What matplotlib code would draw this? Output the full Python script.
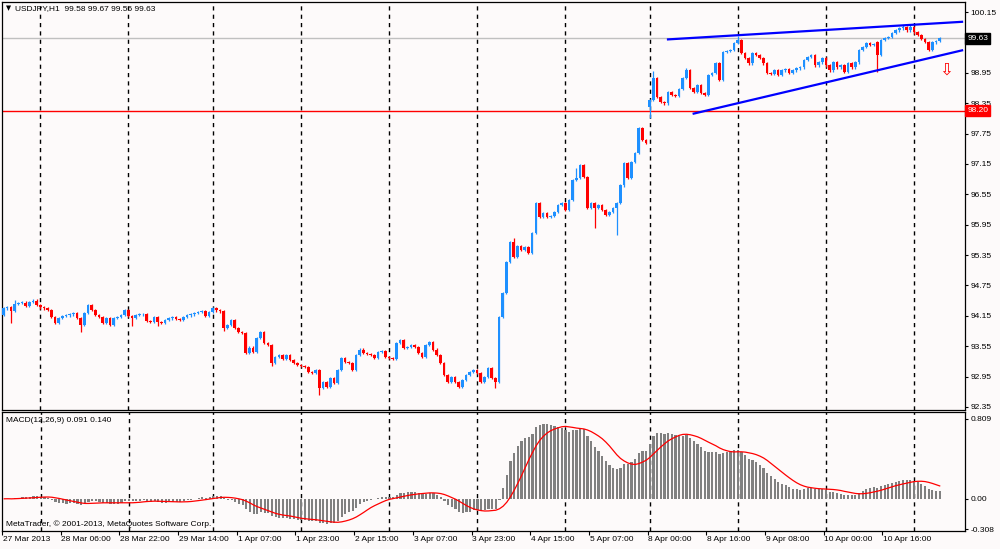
import numpy as np
import pandas as pd
import matplotlib
matplotlib.use("Agg")
import matplotlib.pyplot as plt
import matplotlib.transforms as mtransforms

# ---------------- data (USDJPY H1 closes, one list per trading day) ----------------
d27 = [94.30, 94.32, 94.25, 94.38, 94.40, 94.41, 94.34, 94.42, 94.45, 94.36]
d28 = [94.32, 94.30, 94.27, 94.13, 94.01, 94.11, 94.15, 94.16, 94.18, 94.21, 94.11, 93.97,
       94.21, 94.36, 94.27, 94.17, 94.13, 94.01, 94.11, 93.97, 94.11, 94.13, 94.17, 94.27]
d29 = [94.15, 94.11, 94.17, 94.18, 94.19, 94.05, 94.03, 94.13, 94.03, 94.01, 94.07, 94.10,
       94.12, 94.09, 94.07, 94.13, 94.16, 94.18, 94.21, 94.23, 94.25, 94.15, 94.23]
d01 = [94.30, 94.26, 94.24, 93.91, 93.97, 94.07, 93.91, 93.83, 93.81, 93.42, 93.52, 93.44,
       93.71, 93.83, 93.61, 93.57, 93.22, 93.34, 93.38, 93.30, 93.38, 93.28, 93.22, 93.18]
d02 = [93.16, 93.14, 93.04, 93.02, 93.08, 92.73, 92.84, 92.75, 92.92, 92.82, 93.08, 93.32,
       93.24, 93.22, 93.08, 93.38, 93.48, 93.42, 93.40, 93.38, 93.32, 93.44, 93.46, 93.34]
d03 = [93.32, 93.30, 93.61, 93.67, 93.52, 93.53, 93.57, 93.53, 93.42, 93.34, 93.57, 93.63,
       93.48, 93.38, 93.22, 92.98, 92.84, 92.94, 92.84, 92.75, 92.88, 92.98, 93.04, 93.08]
d04 = [93.02, 92.84, 92.94, 93.12, 92.92, 92.84, 94.13, 94.60, 95.21, 95.61, 95.31, 95.53,
       95.45, 95.51, 95.39, 95.79, 96.38, 96.10, 96.18, 96.10, 96.12, 96.20, 96.34, 96.38]
d05 = [96.24, 96.44, 96.83, 96.87, 97.13, 96.89, 96.28, 96.38, 96.28, 96.34, 96.24, 96.14,
       96.20, 96.28, 96.38, 96.73, 97.17, 96.87, 97.19, 97.37, 97.86, 97.62, 97.56]
d08 = [98.41, 98.85, 98.47, 98.37, 98.35, 98.57, 98.51, 98.50, 98.63, 98.85, 99.00, 98.65,
       98.57, 98.71, 98.55, 98.51, 98.91, 98.95, 99.14, 98.81, 99.36, 99.38, 99.40, 99.54]
d09 = [99.60, 99.34, 99.24, 99.14, 99.34, 99.30, 99.24, 99.14, 98.95, 98.93, 99.00, 98.91,
       99.00, 99.02, 98.95, 99.00, 99.04, 99.06, 99.20, 99.26, 99.30, 99.10, 99.16, 99.24]
d10 = [99.10, 99.00, 99.16, 99.06, 99.10, 98.97, 99.14, 99.06, 99.16, 99.40, 99.46, 99.54,
       99.50, 99.52, 99.30, 99.60, 99.64, 99.66, 99.74, 99.79, 99.83, 99.85, 99.79, 99.85]
d11 = [99.75, 99.70, 99.62, 99.56, 99.40, 99.55, 99.58, 99.63]

# opens that differ from the previous close (first bar, weekend gap, spike bar)
open_marks = {0: 94.17, 176: 98.28, 238: 99.56}
# notable wick extremes
high_marks = {200: 99.68, 245: 99.89, 246: 99.88, 247: 99.90, 156: 97.07,
              186: 99.04, 177: 98.98, 139: 95.68, 3: 94.47}
low_marks = {2: 94.01, 21: 93.83, 35: 93.94, 42: 93.94, 60: 93.86, 73: 93.15, 86: 92.59,
             161: 95.88, 167: 95.75, 176: 98.06, 238: 98.97, 134: 92.73}

day_start_bars = [10, 34, 57, 81, 105, 129, 153, 176, 200, 224, 248]
time_labels = ["27 Mar 2013", "28 Mar 06:00", "28 Mar 22:00", "29 Mar 14:00",
               "1 Apr 07:00", "1 Apr 23:00", "2 Apr 15:00", "3 Apr 07:00",
               "3 Apr 23:00", "4 Apr 15:00", "5 Apr 07:00", "8 Apr 00:00",
               "8 Apr 16:00", "9 Apr 08:00", "10 Apr 00:00", "10 Apr 16:00"]
time_label_bars = [0, 16, 32, 48, 64, 80, 96, 112, 128, 144, 160, 176, 192, 208, 224, 240]

price_ticks = [92.35, 92.95, 93.55, 94.15, 94.75, 95.35, 95.95, 96.55, 97.15,
               97.75, 98.35, 98.95, 99.55, 100.15]
macd_ticks = [0.809, 0.0, -0.308]
macd_tick_labels = ["0.809", "0.00", "-0.308"]

level_price = 98.20
bid_price = 99.63
upper_trend_x, upper_trend_y = [180.7, 261.4], [99.61, 99.96]
lower_trend_x, lower_trend_y = [187.7, 261.4], [98.14, 99.40]
arrow_x, arrow_y = 256.7, 99.01

header_text = "USDJPY,H1  99.58 99.67 99.56 99.63"
macd_text = "MACD(12,26,9) 0.091 0.140"
credit_text = "MetaTrader, \u00a9 2001-2013, MetaQuotes Software Corp."

# ---------------- derived OHLC ----------------
closes = np.array(d27 + d28 + d29 + d01 + d02 + d03 + d04 + d05 + d08 + d09 + d10 + d11)
n = len(closes)
idx = np.arange(n)
opens = np.r_[closes[0], closes[:-1]].astype(float)
for k, v in open_marks.items():
    opens[k] = v
wick = 0.025
highs = np.maximum(opens, closes) + wick
lows = np.minimum(opens, closes) - wick
for k, v in high_marks.items():
    highs[k] = max(v, highs[k])
for k, v in low_marks.items():
    lows[k] = min(v, lows[k])

# MACD (12,26,9) as in MetaTrader: EMA difference, SMA signal
cs = pd.Series(closes)
macd = (cs.ewm(span=12, adjust=False).mean() - cs.ewm(span=26, adjust=False).mean()).values
signal = pd.Series(macd).rolling(9, min_periods=1).mean().values

# ---------------- drawing ----------------
plt.rcParams["font.family"] = ["Liberation Sans", "DejaVu Sans"]
BG = "#FDFAFA"
BLUE = "#1E90FF"
RED = "#FF0000"
FS = 6.0

fig = plt.figure(figsize=(10, 5.49), dpi=100, facecolor=BG)
W, H = 1000.0, 549.0
ax = fig.add_axes([2 / W, 1 - 410 / H, 963 / W, 408 / H], facecolor=BG)
axm = fig.add_axes([2 / W, 1 - 531 / H, 963 / W, 119 / H], facecolor=BG)

xlim = (-0.41, 261.9)
for a in (ax, axm):
    a.set_xlim(*xlim)
    for s in a.spines.values():
        s.set_linewidth(0.9)
        s.set_color("black")
    for b in day_start_bars:
        a.axvline(b, color="black", lw=1.0, ls=(0, (3, 3)), zorder=1)

# main price panel
ax.set_ylim(92.29, 100.35)
ax.axhline(bid_price, color="#C0C0C0", lw=1.0, zorder=1.5)
ax.axhline(level_price, color=RED, lw=1.0, zorder=1.5)

bull = closes >= opens
cols = np.where(bull, BLUE, RED)
ax.vlines(idx, lows, highs, colors=cols, lw=0.9, zorder=3)
body_lo = np.minimum(opens, closes)
body_h = np.maximum(np.abs(closes - opens), 0.014)
ax.bar(idx, body_h, bottom=body_lo, width=0.72, color=cols, linewidth=0, zorder=3)

ax.plot(upper_trend_x, upper_trend_y, color="#0000FF", lw=1.6, zorder=4,
        solid_capstyle="butt")
ax.plot(lower_trend_x, lower_trend_y, color="#0000FF", lw=1.6, zorder=4,
        solid_capstyle="butt")
ax.text(arrow_x, arrow_y, "\u21e9", color=RED, fontsize=12, ha="center", va="center",
        family=["DejaVu Sans"], zorder=5)

ax.set_xticks([])
ax.yaxis.tick_right()
ax.set_yticks(price_ticks)
ax.set_yticklabels(["%.2f" % p for p in price_ticks])
ax.tick_params(axis="y", length=2.5, width=0.8, pad=1.5, labelsize=FS, colors="black")

trans = mtransforms.blended_transform_factory(ax.transAxes, ax.transData)
ax.text(1.0025, bid_price, "%.2f" % bid_price, transform=trans, color="white",
        fontsize=FS, va="center", ha="left", zorder=10, clip_on=False,
        bbox=dict(boxstyle="square,pad=0.25", fc="black", ec="black"))
ax.text(1.0025, level_price, "%.2f" % level_price, transform=trans, color="white",
        fontsize=FS, va="center", ha="left", zorder=10, clip_on=False,
        bbox=dict(boxstyle="square,pad=0.25", fc=RED, ec=RED))

ax.text(0.004, 0.984, "\u25bc", transform=ax.transAxes, fontsize=4.8, va="center",
        ha="left", family=["DejaVu Sans"], zorder=6)
ax.text(0.0135, 0.984, header_text, transform=ax.transAxes, fontsize=FS, va="center",
        ha="left", zorder=6)

# MACD panel
axm.set_ylim(-0.326, 0.879)
axm.bar(idx, macd, width=0.6, color="#808080", linewidth=0, zorder=3)
axm.plot(idx, signal, color=RED, lw=0.9, zorder=4)
axm.yaxis.tick_right()
axm.set_yticks(macd_ticks)
axm.set_yticklabels(macd_tick_labels)
axm.tick_params(axis="y", length=2.5, width=0.8, pad=1.5, labelsize=FS, colors="black")
axm.set_xticks([b - 0.6 for b in time_label_bars])
axm.set_xticklabels([])
axm.tick_params(axis="x", length=3, width=0.8, direction="out")
tb = mtransforms.blended_transform_factory(axm.transData, axm.transAxes)
for b, lab in zip(time_label_bars, time_labels):
    axm.text(b - 0.4, -0.04, lab, transform=tb, fontsize=FS, ha="left", va="top",
             clip_on=False)
axm.text(0.004, 0.925, macd_text, transform=axm.transAxes, fontsize=FS, ha="left",
         va="center")
axm.text(0.004, 0.06, credit_text, transform=axm.transAxes, fontsize=FS, ha="left",
         va="center")

fig.savefig("out.png", dpi=100, facecolor=BG)
